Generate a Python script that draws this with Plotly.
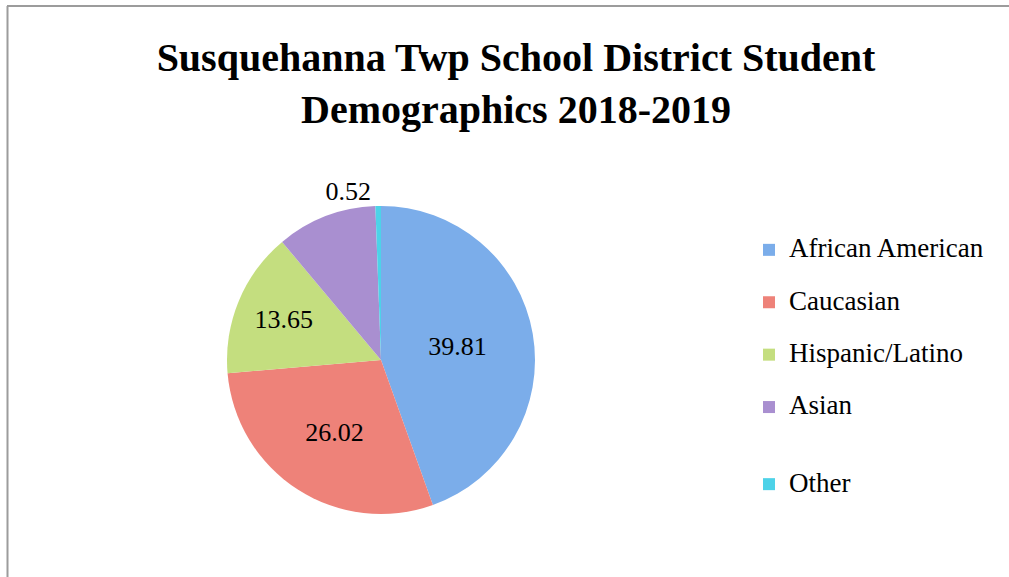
import plotly.graph_objects as go

categories = ["African American", "Caucasian", "Hispanic/Latino", "Asian", "Other"]
values = [39.81, 26.02, 13.65, 9.4, 0.52]
label_pos = ["inside", "inside", "inside", "none", "outside"]
colors = ["#7badea", "#ee8279", "#c4de7f", "#a98fd0", "#4dd2e8"]
legend_blank_lines = [1, 1, 1, 2, 1]  # extra spacing after each legend entry

FONT = "Liberation Serif"

legend_labels = [
    f"<span style='font-size:27px'>{c}</span>" + "<br> " * n
    for c, n in zip(categories, legend_blank_lines)
]

W, H = 1009, 577

fig = go.Figure(
    go.Pie(
        labels=legend_labels,
        values=values,
        sort=False,
        direction="clockwise",
        rotation=0,
        marker=dict(colors=colors, line=dict(width=0)),
        texttemplate="%{value}",
        textposition=label_pos,
        insidetextorientation="horizontal",
        textfont=dict(family=FONT, size=26, color="black"),
        outsidetextfont=dict(family=FONT, size=26, color="black"),
        domain=dict(x=[227 / W, 535 / W], y=[1 - 517 / H, 1 - 203 / H]),
        hoverinfo="value",
    )
)

fig.update_layout(
    width=W,
    height=H,
    margin=dict(l=0, r=0, t=0, b=0),
    paper_bgcolor="white",
    plot_bgcolor="white",
    title=dict(
        text="Susquehanna Twp School District Student<br>Demographics 2018-2019",
        x=516 / W,
        xanchor="center",
        y=1 - 71 / H,
        yanchor="top",
        font=dict(family=FONT, size=40, color="black", weight="bold"),
    ),
    legend=dict(
        x=749 / W,
        xanchor="left",
        y=1 - 231 / H,
        yanchor="top",
        valign="top",
        font=dict(family=FONT, size=19, color="black"),
        itemwidth=30,
        bgcolor="rgba(0,0,0,0)",
    ),
    showlegend=True,
    shapes=[
        dict(type="line", xref="paper", yref="paper", x0=7 / W, x1=1, y0=1 - 6 / H, y1=1 - 6 / H,
             line=dict(color="#9c9c9c", width=2)),
        dict(type="line", xref="paper", yref="paper", x0=7.5 / W, x1=7.5 / W, y0=0, y1=1 - 6 / H,
             line=dict(color="#9c9c9c", width=2)),
    ],
)

fig.write_html("out.html", config={"displayModeBar": False},
               post_script="document.body.style.margin='0';")
